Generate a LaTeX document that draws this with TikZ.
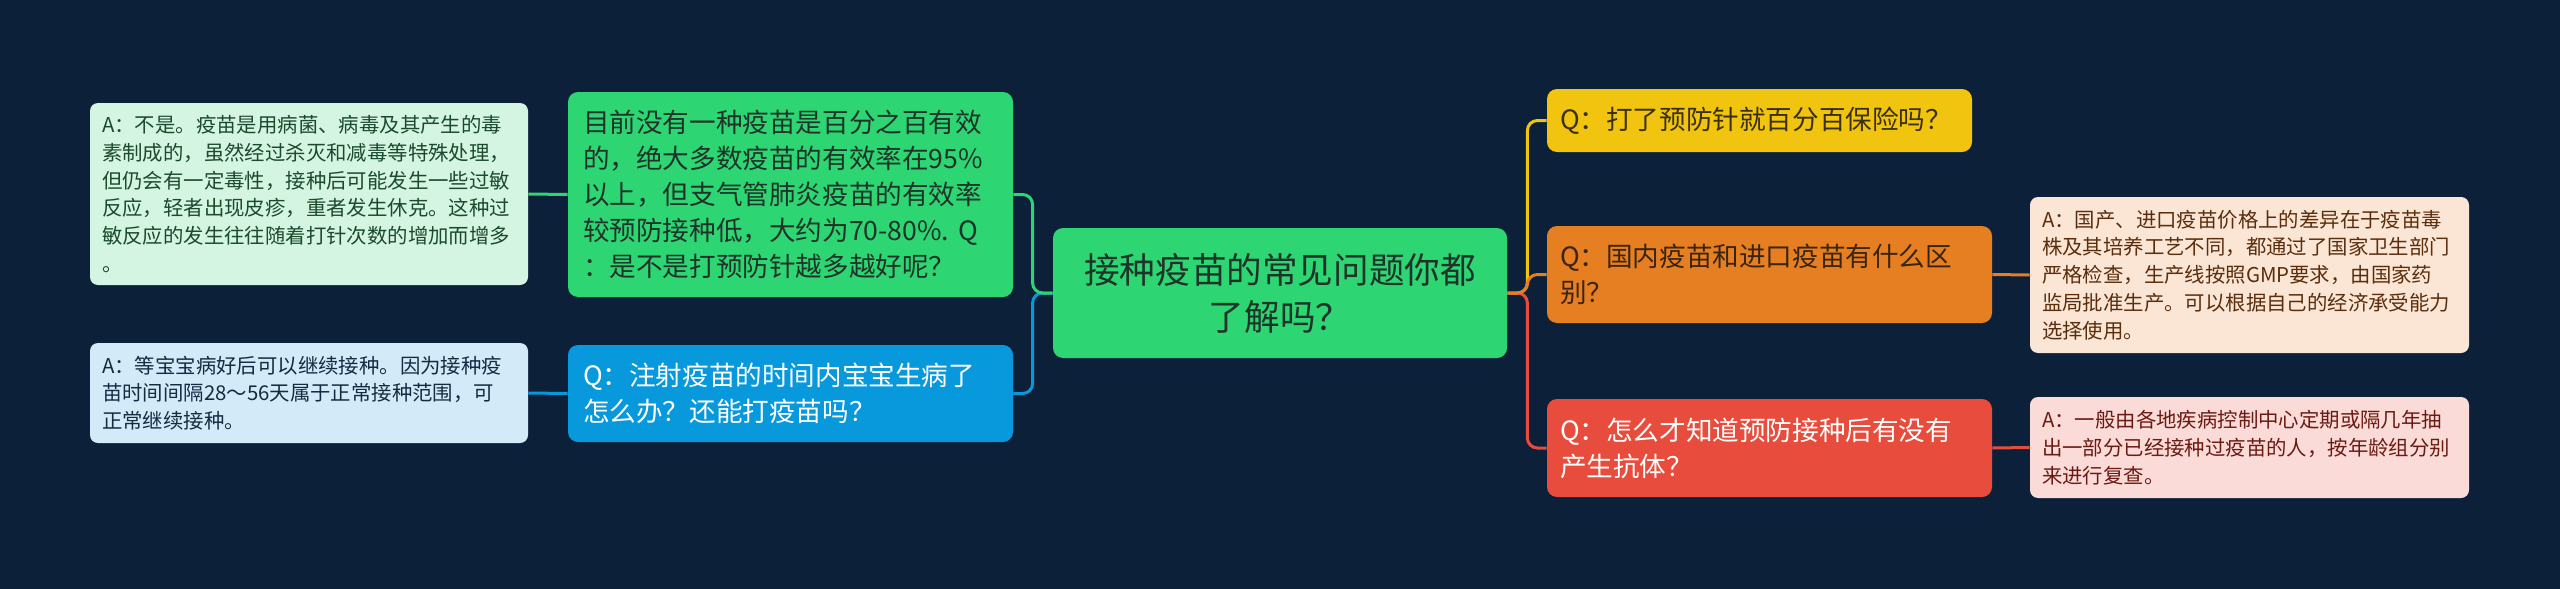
\documentclass[tikz,border=0pt]{standalone}
\usepackage{fontspec}
\setmainfont{Noto Sans CJK SC}
\frenchspacing
\definecolor{bg}{HTML}{0C203A}
\definecolor{cgreen}{HTML}{2ED573}
\definecolor{cblue}{HTML}{0898DC}
\definecolor{cyellow}{HTML}{F1C40F}
\definecolor{corange}{HTML}{E67E22}
\definecolor{cred}{HTML}{E74C3C}
\definecolor{cdark}{HTML}{1F3328}
\definecolor{lgreen}{HTML}{D5F5E3}
\definecolor{lblue}{HTML}{D3EBF8}
\definecolor{lpeach}{HTML}{FBE6D6}
\definecolor{lpink}{HTML}{FADBD8}
\definecolor{tgreen}{HTML}{1B4A2C}
\definecolor{tblue}{HTML}{132C42}
\definecolor{tbrown}{HTML}{5A2E0C}
\definecolor{tred}{HTML}{6B1A12}
\definecolor{tyel}{HTML}{3A300A}
\definecolor{torg}{HTML}{3A2410}
\tikzset{
  box/.style={rounded corners=5pt, inner ysep=2pt, align=left, anchor=center},
  qfont/.style={font=\fontsize{13.3pt}{18pt}\selectfont},
  afont/.style={font=\fontsize{10.2pt}{13.9pt}\selectfont},
  conn/.style={line width=1.5pt, rounded corners=5pt},
}
\begin{document}
\begin{tikzpicture}[x=0.5pt,y=-0.5pt]
\fill[bg] (0,0) rectangle (2560,589);
\useasboundingbox (0,0) rectangle (2560,589);

% root
\node[box, fill=cgreen, text=cdark, text width=211pt, inner xsep=8pt, minimum height=65pt, align=center, font=\fontsize{17.8pt}{23.5pt}\selectfont] (root) at (1280,293) {接种疫苗的常见问题你都\\了解吗？};

% left questions
\node[box, qfont, fill=cgreen, text=cdark, text width=207.5pt, inner xsep=7.5pt, minimum height=102.5pt] (q1) at (790.5,194.5) {目前没有一种疫苗是百分之百有效\\的，绝大多数疫苗的有效率在95\%\\以上，但支气管肺炎疫苗的有效率\\较预防接种低，大约为70-80\%. Q\\：是不是打预防针越多越好呢？};
\node[box, qfont, fill=cblue, text=white, text width=207.5pt, inner xsep=7.5pt, minimum height=48.5pt] (q2) at (790.5,393.5) {Q：注射疫苗的时间内宝宝生病了\\怎么办？还能打疫苗吗？};

% left answers
\node[box, afont, rounded corners=4pt, fill=lgreen, text=tgreen, text width=207pt, inner xsep=6pt, minimum height=91pt] (a1) at (309,194) {A：不是。疫苗是用病菌、病毒及其产生的毒\\素制成的，虽然经过杀灭和减毒等特殊处理，\\但仍会有一定毒性，接种后可能发生一些过敏\\反应，轻者出现皮疹，重者发生休克。这种过\\敏反应的发生往往随着打针次数的增加而增多\\。};
\node[box, afont, rounded corners=4pt, fill=lblue, text=tblue, text width=207pt, inner xsep=6pt, minimum height=50pt] (a2) at (309,393) {A：等宝宝病好后可以继续接种。因为接种疫\\苗时间间隔28～56天属于正常接种范围，可\\正常继续接种。};

% right questions
\node[box, qfont, fill=cyellow, text=tyel, text width=199.5pt, inner xsep=6.5pt, minimum height=31.5pt] (rq1) at (1759.5,120.5) {Q：打了预防针就百分百保险吗？};
\node[box, qfont, fill=corange, text=torg, text width=209.5pt, inner xsep=6.5pt, minimum height=48.5pt] (rq2) at (1769.5,274.5) {Q：国内疫苗和进口疫苗有什么区\\别？};
\node[box, qfont, fill=cred, text=white, text width=209.5pt, inner xsep=6.5pt, minimum height=49pt] (rq3) at (1769.5,448) {Q：怎么才知道预防接种后有没有\\产生抗体？};

% right answers
\node[box, afont, rounded corners=4pt, fill=lpeach, text=tbrown, text width=207.5pt, inner xsep=6pt, minimum height=78pt] (ra2) at (2249.5,275) {A：国产、进口疫苗价格上的差异在于疫苗毒\\株及其培养工艺不同，都通过了国家卫生部门\\严格检查，生产线按照GMP要求，由国家药\\监局批准生产。可以根据自己的经济承受能力\\选择使用。};
\node[box, afont, rounded corners=4pt, fill=lpink, text=tred, text width=207.5pt, inner xsep=6pt, minimum height=50.5pt] (ra3) at (2249.5,447.5) {A：一般由各地疾病控制中心定期或隔几年抽\\出一部分已经接种过疫苗的人，按年龄组分别\\来进行复查。};

% connectors left
\draw[conn, cblue] (root.west) -- ++(-20,0) |- (q2.east);
\draw[conn, cgreen] (root.west) -- ++(-20,0) |- (q1.east);
\draw[conn, cgreen] (q1.west) -- (a1.east);
\draw[conn, cblue] (q2.west) -- (a2.east);

% connectors right
\draw[conn, cyellow] (root.east) -- ++(20,0) |- (rq1.west);
\draw[conn, cred] (root.east) -- ++(20,0) |- (rq3.west);
\draw[conn, corange] (root.east) -- ++(20,0) |- (rq2.west);
\draw[conn, corange] (rq2.east) -- (ra2.west);
\draw[conn, cred] (rq3.east) -- (ra3.west);
\end{tikzpicture}
\end{document}
